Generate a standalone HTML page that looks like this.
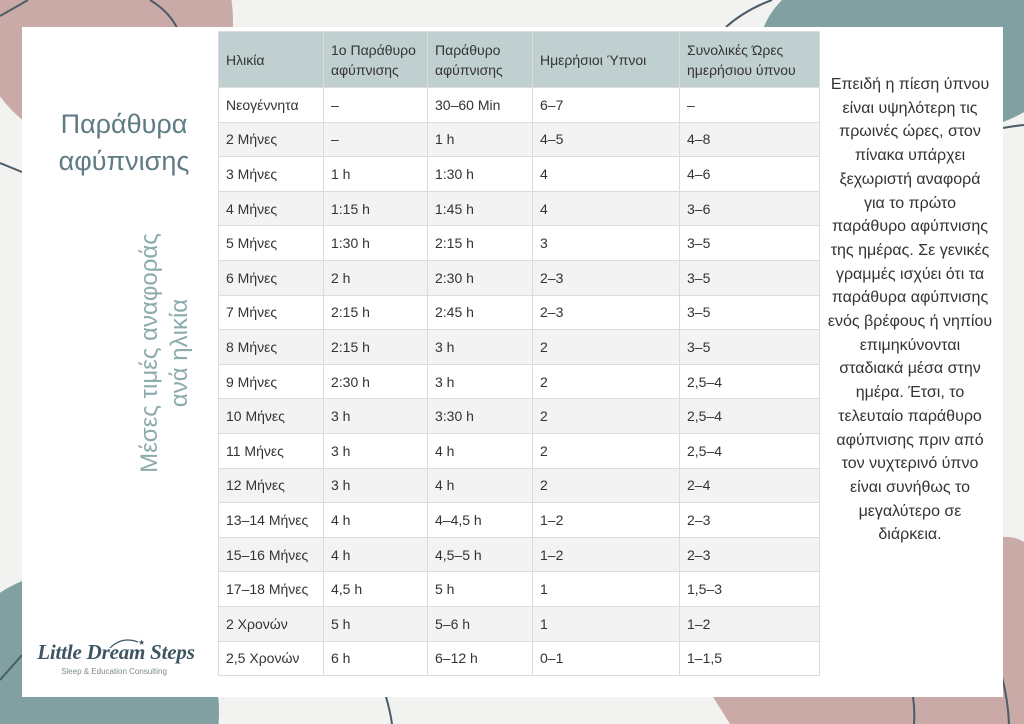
<!DOCTYPE html>
<html>
<head>
<meta charset="utf-8">
<style>
  html, body { margin:0; padding:0; }
  body { width:1024px; height:724px; position:relative; overflow:hidden; background:#f2f2f0; font-family:"Liberation Sans", Arial, sans-serif; }
  svg.bg { position:absolute; left:0; top:0; }
  .card { position:absolute; left:22px; top:27px; width:981px; height:670px; background:#fff; }
  .title { position:absolute; left:24px; top:106px; width:200px; text-align:center; font-size:27px; line-height:37px; color:#5f7b84; }
  .rot { position:absolute; left:25px; top:323px; width:280px; height:60px; text-align:center; font-size:24px; line-height:30px; color:#8eabab; transform:rotate(-90deg); transform-origin:140px 30px; white-space:nowrap; }
  table { position:absolute; left:218px; top:31px; border-collapse:collapse; table-layout:fixed; width:601px; font-size:14px; color:#333; }
  td, th { border:1px solid #dcdcdc; padding:0 0 0 7px; text-align:left; font-weight:normal; vertical-align:middle; white-space:nowrap; overflow:hidden; }
  th { background:#c0d0d0; height:55px; line-height:20px; }
  td { height:33.6px; background:#fff; }
  tr:nth-child(odd) td { background:#f3f3f3; }
  .side { position:absolute; left:812px; top:73px; width:196px; text-align:center; font-size:16px; line-height:23.7px; color:#333; }
  .logo { position:absolute; left:30px; top:640px; width:172px; text-align:center; font-family:"Liberation Serif", serif; font-style:italic; font-weight:bold; font-size:21px; color:#3e5563; white-space:nowrap; letter-spacing:-0.2px; }
  .sub { position:absolute; left:50px; top:667px; width:128px; text-align:center; font-size:8px; color:#7b8a90; white-space:nowrap; }
</style>
</head>
<body>
<svg class="bg" width="1024" height="724" viewBox="0 0 1024 724">
  <rect width="1024" height="724" fill="#f2f2f0"/>
  <circle cx="104" cy="20" r="129" fill="#c9aaa6"/>
  <path d="M782,0 C772,10 766,20 762,32 L1003,122 Q1014,118 1024,112 L1024,0 Z" fill="#80a0a1"/>
  <circle cx="77" cy="712" r="142" fill="#80a0a1"/>
  <path d="M1003,537 Q1014,536 1024,542 L1024,724 L730,724 L690,660 Z" fill="#c9aaa6"/>
  <g fill="none" stroke="#4b5c69" stroke-width="2">
    <path d="M0,16 Q14,8 28,0"/>
    <path d="M150,0 Q170,12 178,30"/>
    <path d="M0,163 L22,172"/>
    <path d="M726,27 Q745,10 772,0"/>
    <path d="M1003,128 Q1014,126 1024,125"/>
    <path d="M0,680 L22,655"/>
    <path d="M386,697 Q390,710 392,724"/>
    <path d="M913,697 Q915,710 914,724"/>
    <path d="M1002,677 Q1008,700 1009,724"/>
  </g>
</svg>
<div class="card"></div>

<div class="title">Παράθυρα<br>αφύπνισης</div>
<div class="rot">Μέσες τιμές αναφοράς<br>ανά ηλικία</div>

<table>
  <colgroup>
    <col style="width:105px"><col style="width:104px"><col style="width:105px"><col style="width:147px"><col style="width:140px">
  </colgroup>
  <tr><th>Ηλικία</th><th>1ο Παράθυρο<br>αφύπνισης</th><th>Παράθυρο<br>αφύπνισης</th><th>Ημερήσιοι Ύπνοι</th><th>Συνολικές Ώρες<br>ημερήσιου ύπνου</th></tr>
  <tr><td>Νεογέννητα</td><td>–</td><td>30–60 Min</td><td>6–7</td><td>–</td></tr>
  <tr><td>2 Μήνες</td><td>–</td><td>1 h</td><td>4–5</td><td>4–8</td></tr>
  <tr><td>3 Μήνες</td><td>1 h</td><td>1:30 h</td><td>4</td><td>4–6</td></tr>
  <tr><td>4 Μήνες</td><td>1:15 h</td><td>1:45 h</td><td>4</td><td>3–6</td></tr>
  <tr><td>5 Μήνες</td><td>1:30 h</td><td>2:15 h</td><td>3</td><td>3–5</td></tr>
  <tr><td>6 Μήνες</td><td>2 h</td><td>2:30 h</td><td>2–3</td><td>3–5</td></tr>
  <tr><td>7 Μήνες</td><td>2:15 h</td><td>2:45 h</td><td>2–3</td><td>3–5</td></tr>
  <tr><td>8 Μήνες</td><td>2:15 h</td><td>3 h</td><td>2</td><td>3–5</td></tr>
  <tr><td>9 Μήνες</td><td>2:30 h</td><td>3 h</td><td>2</td><td>2,5–4</td></tr>
  <tr><td>10 Μήνες</td><td>3 h</td><td>3:30 h</td><td>2</td><td>2,5–4</td></tr>
  <tr><td>11 Μήνες</td><td>3 h</td><td>4 h</td><td>2</td><td>2,5–4</td></tr>
  <tr><td>12 Μήνες</td><td>3 h</td><td>4 h</td><td>2</td><td>2–4</td></tr>
  <tr><td>13–14 Μήνες</td><td>4 h</td><td>4–4,5 h</td><td>1–2</td><td>2–3</td></tr>
  <tr><td>15–16 Μήνες</td><td>4 h</td><td>4,5–5 h</td><td>1–2</td><td>2–3</td></tr>
  <tr><td>17–18 Μήνες</td><td>4,5 h</td><td>5 h</td><td>1</td><td>1,5–3</td></tr>
  <tr><td>2 Χρονών</td><td>5 h</td><td>5–6 h</td><td>1</td><td>1–2</td></tr>
  <tr><td>2,5 Χρονών</td><td>6 h</td><td>6–12 h</td><td>0–1</td><td>1–1,5</td></tr>
</table>

<div class="side">Επειδή η πίεση ύπνου<br>είναι υψηλότερη τις<br>πρωινές ώρες, στον<br>πίνακα υπάρχει<br>ξεχωριστή αναφορά<br>για το πρώτο<br>παράθυρο αφύπνισης<br>της ημέρας. Σε γενικές<br>γραμμές ισχύει ότι τα<br>παράθυρα αφύπνισης<br>ενός βρέφους ή νηπίου<br>επιμηκύνονται<br>σταδιακά μέσα στην<br>ημέρα. Έτσι, το<br>τελευταίο παράθυρο<br>αφύπνισης πριν από<br>τον νυχτερινό ύπνο<br>είναι συνήθως το<br>μεγαλύτερο σε<br>διάρκεια.</div>

<svg style="position:absolute;left:108px;top:636px" width="40" height="14" viewBox="0 0 40 14">
  <path d="M2,12 Q14,0 30,6" fill="none" stroke="#3e5563" stroke-width="1.2"/>
  <text x="30" y="9" font-size="8" fill="#3e5563" font-family="DejaVu Sans, sans-serif">★</text>
</svg>
<div class="logo">Little Dream Steps</div>
<div class="sub">Sleep &amp; Education Consulting</div>
</body>
</html>
